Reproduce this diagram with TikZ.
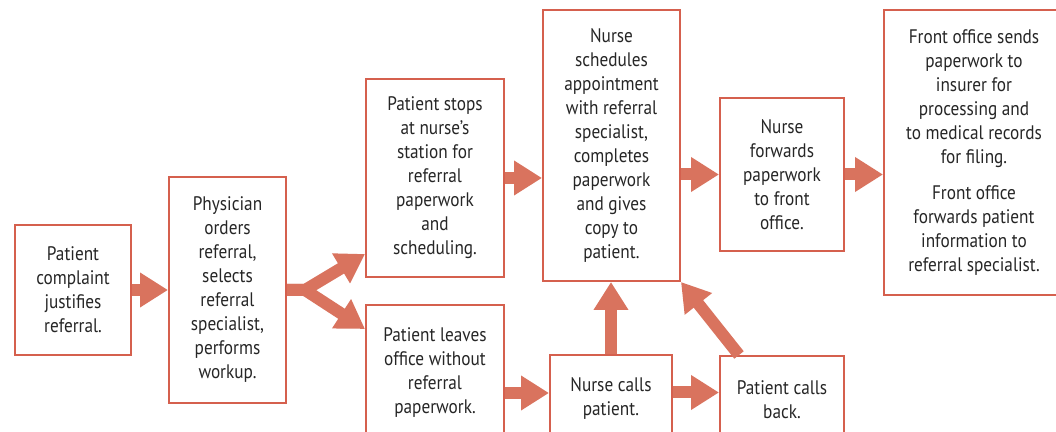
\documentclass[tikz,border=0pt]{standalone}
\usepackage{fontspec}
\setmainfont[FakeStretch=0.88]{PT Sans}
\usetikzlibrary{arrows.meta}
\definecolor{boxred}{HTML}{D5604E}
\definecolor{arrowred}{HTML}{D9735E}
\definecolor{textgray}{HTML}{262626}
\tikzset{
  stepbox/.style={draw=boxred, line width=1pt, fill=white, align=center,
    inner sep=0pt, text=textgray, font=\fontsize{9.8pt}{12pt}\selectfont},
  flow/.style={draw=arrowred, line width=6pt, line join=miter,
    -{Triangle[width=16.5pt, length=14pt]}, arrowred}
}
\begin{document}
\begin{tikzpicture}[x=0.5pt, y=-0.5pt]
\useasboundingbox (0, 0) rectangle (1056, 432);
\clip (0, 0) rectangle (1056, 432);
\fill [white] (0, 0) rectangle (1056, 432);

\node (complaint) at (73, 290) [stepbox, minimum width=58pt, minimum height=65pt] {Patient\\complaint\\justifies\\referral.};
\node (physician) at (227.5, 290) [stepbox, minimum width=58.5pt, minimum height=113pt] {Physician\\orders\\referral,\\selects\\referral\\specialist,\\performs\\workup.};
\node (stops) at (435, 178) [stepbox, minimum width=69pt, minimum height=99pt] {Patient stops\\at nurse's\\station for\\referral\\paperwork\\and\\scheduling.};
\node (leaves) at (435, 372.5) [stepbox, minimum width=69pt, minimum height=67.5pt] {Patient leaves\\office without\\referral\\paperwork.};
\node (schedules) at (611.5, 145.5) [stepbox, minimum width=68.5pt, minimum height=135.5pt] {Nurse\\schedules\\appointment\\with referral\\specialist,\\completes\\paperwork\\and gives\\copy to\\patient.};
\node (calls) at (611, 398.5) [stepbox, minimum width=61pt, minimum height=43.5pt] {Nurse calls\\patient.};
\node (forwards) at (782, 174.5) [stepbox, minimum width=62pt, minimum height=76.5pt] {Nurse\\forwards\\paperwork\\to front\\office.};
\node (front) at (974, 152.5) [stepbox, minimum width=90pt, minimum height=142.5pt] {Front office sends\\paperwork to\\insurer for\\processing and\\to medical records\\for filing.\\[6pt]Front office\\forwards patient\\information to\\referral specialist.};
\node (callsback) at (782, 400) [stepbox, minimum width=62pt, minimum height=44pt] {Patient calls\\back.};

% flow arrows
\coordinate (fork) at ([xshift=9pt]physician.east);
\draw [flow] (complaint.east) -- (physician.west);
\draw [flow] (physician.east) -- (fork) -- ([yshift=12pt]stops.south west);
\draw [flow] (physician.east) -- (fork) -- ([yshift=-12.5pt]leaves.north west);
\draw [flow] (stops.east) -- (stops.east -| schedules.west);
\draw [flow] (forwards.west -| schedules.east) -- (forwards.west);
\draw [flow] (forwards.east) -- (forwards.east -| front.west);
\draw [flow] ([yshift=2.75pt]calls.west -| leaves.east) -- ([yshift=2.75pt]calls.west);
\draw [flow] ([yshift=3pt]calls.east) -- ([yshift=3pt]calls.east -| callsback.west);
\draw [flow] (calls.north) -- (calls.north |- schedules.south);
\draw [flow] ([xshift=10pt]callsback.north west) -- (schedules.south east);
\end{tikzpicture}
\end{document}
